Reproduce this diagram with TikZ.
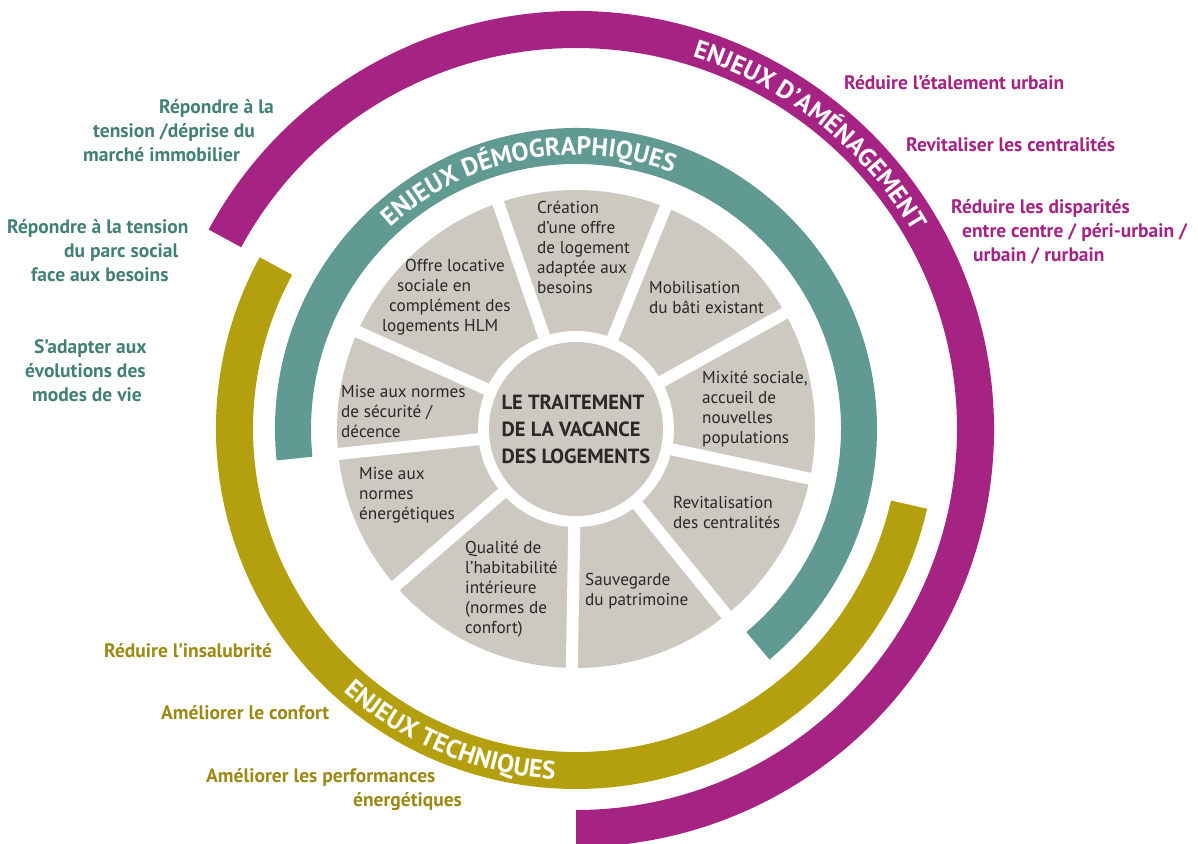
\documentclass[tikz,border=0pt]{standalone}
\usepackage{fontspec}
\setmainfont{PT Sans}
\usetikzlibrary{decorations.text}

\definecolor{amenag}{RGB}{165,35,130}
\definecolor{demo}{RGB}{96,154,146}
\definecolor{techn}{RGB}{180,160,14}
\definecolor{demotxt}{RGB}{66,128,119}
\definecolor{techntxt}{RGB}{156,136,18}
\definecolor{part}{RGB}{205,200,192}
\definecolor{parttxt}{RGB}{40,40,40}

\begin{document}
\begin{tikzpicture}[x=1pt,y=1pt,
    parttext/.style={anchor=north west,inner sep=0pt,align=left,text=parttxt,font=\fontsize{17.2}{20}\selectfont},
    enjeu/.style={anchor=north west,inner sep=0pt,align=left,font=\bfseries\fontsize{19.5}{24}\selectfont},
    ringtitle/.style={decorate,decoration={text along path,text align=center,text color=white,
        text={|\bfseries\fontsize{25.5}{25}\selectfont|#1}}}]
    \useasboundingbox (-576,-414) rectangle (622,429);

    % les trois anneaux
    \fill[amenag] (151.5:418) arc[start angle=151.5,end angle=-90,radius=418] -- (-90:381)
        arc[start angle=-90,end angle=151.5,radius=381] -- cycle;
    \fill[techn] (151.5:360) arc[start angle=151.5,end angle=347.2,radius=360] -- (347.2:323)
        arc[start angle=347.2,end angle=151.5,radius=323] -- cycle;
    \fill[demo] (186:301) arc[start angle=186,end angle=-50,radius=301] -- (-50:265)
        arc[start angle=-50,end angle=186,radius=265] -- cycle;

    \path[ringtitle={ENJEUX DÉMOGRAPHIQUES}] (141:274) arc[start angle=141,end angle=61,radius=274];
    \path[ringtitle={ENJEUX D’AMÉNAGEMENT}] (81.5:390) arc[start angle=81.5,end angle=21.5,radius=390];
    \path[ringtitle={ENJEUX TECHNIQUES}] (217.5:351) arc[start angle=217.5,end angle=277.5,radius=351];

    % la roue
    \fill[part] (0,0) circle[radius=239];
    \foreach \a in {109,68,29,-12,-51,-91,-139,186,156}
        \draw[white,line width=12pt] (0,0) -- (\a:250);
    \fill[white] (0,0) circle[radius=98];
    \node[circle,fill=part,minimum size=174pt,inner sep=0pt,align=left,text=parttxt,
        font=\bfseries\fontsize{20.5}{27}\selectfont] (vac) at (0,0) {LE TRAITEMENT\\DE LA VACANCE\\DES LOGEMENTS};

    \node[parttext] (offre) at (-194,170) {\hspace{23pt}Offre locative\\\hspace{15pt}sociale en\\\hspace{7pt}complément des\\logements HLM};
    \node[parttext] (creation) at (-39,228) {Création\\d’une offre\\de logement\\adaptée aux\\besoins};
    \node[parttext] (mobil) at (73,148) {Mobilisation\\du bâti existant};
    \node[parttext] (mixite) at (126,58) {Mixité sociale,\\accueil de\\nouvelles\\populations};
    \node[parttext] (revit) at (97,-67) {Revitalisation\\des centralités};
    \node[parttext] (sauveg) at (9,-144) {Sauvegarde\\du patrimoine};
    \node[parttext] (qualite) at (-111,-112) {Qualité de\\l’habitabilité\\intérieure\\(normes de\\confort)};
    \node[parttext] (energ) at (-217,-38) {Mise aux\\normes\\énergétiques};
    \node[parttext] (securite) at (-235,44) {Mise aux normes\\de sécurité /\\décence};

    % les enjeux autour
    \node[enjeu,text=demotxt] (tension) at (-493,330) {\hspace{76pt}Répondre à la\\\hspace{10pt}tension /déprise du\\marché immobilier};
    \node[enjeu,text=demotxt] (parcsocial) at (-569,210) {Répondre à la tension\\\hspace{57pt}du parc social\\\hspace{24pt}face aux besoins};
    \node[enjeu,text=demotxt] (modesvie) at (-551,90) {\hspace{9pt}S’adapter aux\\évolutions des\\\hspace{7pt}modes de vie};

    \node[enjeu,text=amenag] (etalement) at (268,354) {Réduire l’étalement urbain};
    \node[enjeu,text=amenag] (centralites) at (330,292) {Revitaliser les centralités};
    \node[enjeu,text=amenag] (disparites) at (375,230) {Réduire les disparités\\\hspace{11pt}entre centre / péri-urbain /\\\hspace{22pt}urbain / rurbain};

    \node[enjeu,text=techntxt] (insalubrite) at (-472,-214) {Réduire l’insalubrité};
    \node[enjeu,text=techntxt] (confort) at (-415,-276) {Améliorer le confort};
    \node[enjeu,text=techntxt] (perf) at (-370,-339) {Améliorer les performances\\\hspace{147pt}énergétiques};
\end{tikzpicture}
\end{document}
